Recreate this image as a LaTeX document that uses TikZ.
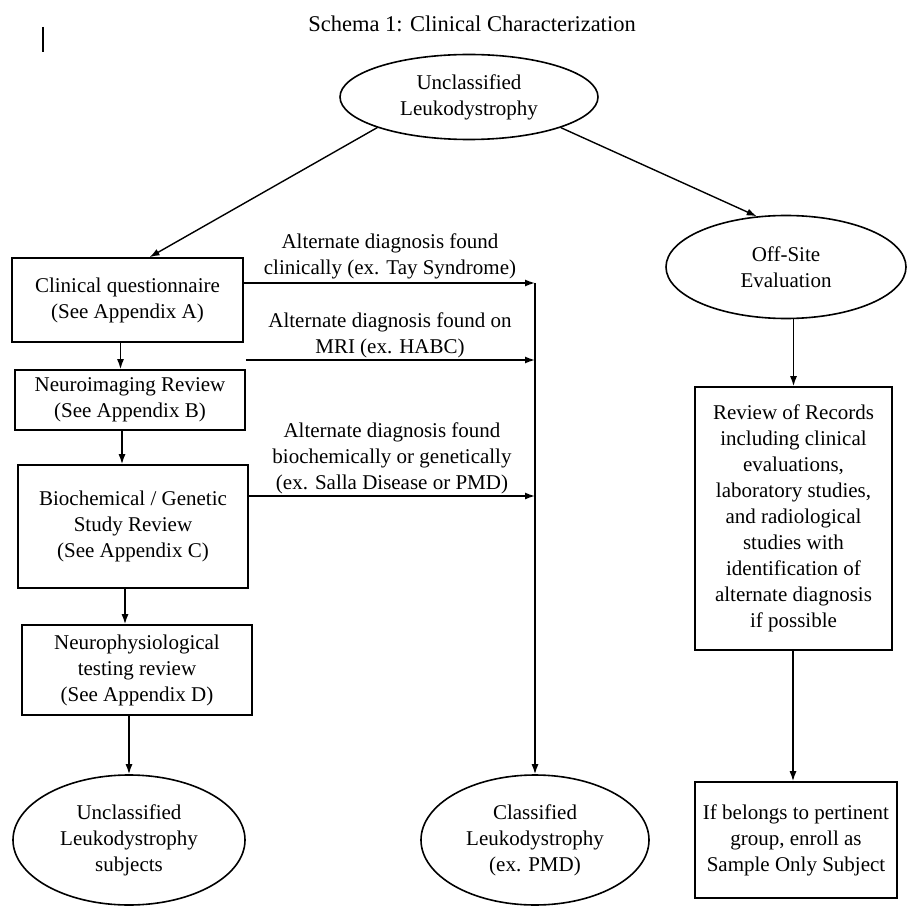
\documentclass[tikz,border=0pt]{standalone}
\usepackage{fontspec}
\setmainfont{Liberation Serif}
\usetikzlibrary{shapes.geometric,arrows.meta,calc}
\begin{document}
\begin{tikzpicture}[x=1pt,y=-1pt,
  txt/.style={font=\fontsize{21}{26}\selectfont,align=center},
  box/.style={txt,draw,line width=1.6pt,inner sep=0pt},
  ell/.style={txt,draw,ellipse,line width=1.6pt,inner sep=0pt},
  arr/.style={-{Latex[length=10pt,width=7pt]},line width=1.4pt},
  lbl/.style={txt,inner sep=0pt}]
\useasboundingbox (0,0) rectangle (913,909);
\node[txt,font=\fontsize{22.5}{26}\selectfont] (title) at (472,24) {Schema 1: Clinical Characterization};
\coordinate (m1) at (43,27);
\coordinate (m2) at (43,52);
\draw[line width=1.4pt] (m1) -- (m2);

\node[ell,minimum width=258,minimum height=85] (top) at (469,97) {Unclassified\\Leukodystrophy};
\node[box,minimum width=231,minimum height=84] (cq) at (127.5,300) {Clinical questionnaire\\(See Appendix A)};
\node[box,minimum width=230,minimum height=60] (nr) at (130,400) {Neuroimaging Review\\(See Appendix B)};
\node[box,minimum width=230,minimum height=123] (bg) at (133,526.5) {Biochemical / Genetic\\Study Review\\(See Appendix C)};
\node[box,minimum width=230,minimum height=90] (np) at (137,670) {Neurophysiological\\testing review\\(See Appendix D)};
\node[ell,minimum width=232,minimum height=130] (us) at (129,840) {Unclassified\\Leukodystrophy\\subjects};
\node[ell,minimum width=228,minimum height=130] (cl) at (535,840) {Classified\\Leukodystrophy\\(ex. PMD)};
\node[ell,minimum width=240,minimum height=103] (off) at (786,267) {Off-Site\\Evaluation};
\node[box,minimum width=197,minimum height=263] (rr) at (793.5,518.5) {Review of Records\\including clinical\\evaluations,\\laboratory studies,\\and radiological\\studies with\\identification of\\alternate diagnosis\\if possible};
\node[box,minimum width=202,minimum height=116] (sg) at (796,840) {If belongs to pertinent\\group, enroll as\\Sample Only Subject};

\draw[arr] (top.south west) -- ($(cq.north)+(22,0)$);
\draw[arr] (top.south east) -- (off.120);
\draw[arr] ($(cq.south)+(-7,0)$) -- ($(nr.north)+(-9.5,0)$);
\draw[arr] ($(nr.south)+(-8,0)$) -- ($(bg.north)+(-11,0)$);
\draw[arr] ($(bg.south)+(-8,0)$) -- ($(np.north)+(-12,0)$);
\draw[arr] ($(np.south)+(-8,0)$) -- (us.north);
\draw[arr] (off.south -| rr.north) -- (rr.north);
\draw[arr] ($(rr.south)+(-0.5,0)$) -- ($(sg.north)+(-3,0)$);

\coordinate (j1) at (535,283);
\coordinate (j2) at (535,360);
\coordinate (j3) at (535,496);
\draw[arr] (cq.east |- j1) -- (j1);
\draw[arr] (nr.east |- j2) -- (j2);
\draw[arr] (bg.east |- j3) -- (j3);
\draw[arr] (j1) -- (cl.north);

\node[lbl] (l1) at (390,256) {Alternate diagnosis found\\clinically (ex. Tay Syndrome)};
\node[lbl] (l2) at (390,335) {Alternate diagnosis found on\\MRI (ex. HABC)};
\node[lbl] (l3) at (392,458) {Alternate diagnosis found\\biochemically or genetically\\(ex. Salla Disease or PMD)};
\end{tikzpicture}
\end{document}
